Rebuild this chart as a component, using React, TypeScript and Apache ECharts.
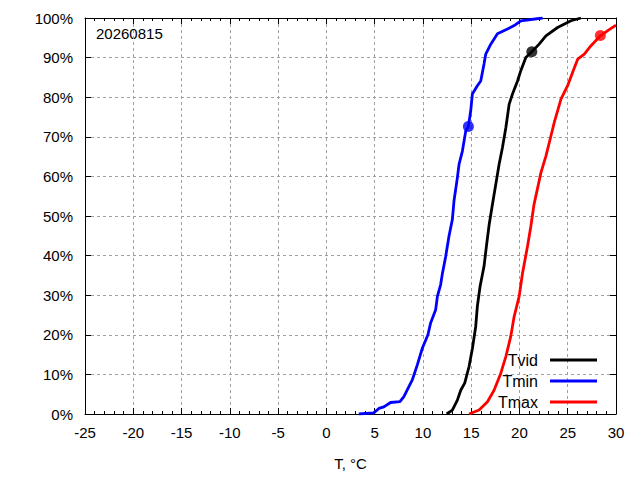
import React, { useEffect, useRef } from "react";
import * as echarts from "echarts";

const dateLabel = "20260815";
const seriesNames = ["Tvid", "Tmin", "Tmax"];
const seriesColors = ["#000000", "#0000ff", "#ff0000"];

const tvidT = [12.46, 13.05, 13.57, 13.92, 14.33, 14.78, 15.13, 15.47, 15.64, 15.92, 16.33, 16.6, 16.86, 17.2, 17.55, 17.89, 18.24, 18.59, 18.93, 19.28, 19.8, 20.14, 20.66, 21.28, 22.04, 22.74, 23.95, 25.33, 26.37];
const tvidP = [0, 1, 3.5, 6, 7.8, 12, 16.6, 22.1, 27.2, 32.2, 37.3, 42.8, 47.8, 52.9, 58, 63, 67.3, 72.3, 78.2, 80.8, 84.1, 86.7, 90, 91.5, 93.4, 95.5, 97.6, 99.3, 100];

const tminT = [3.36, 4.9, 5.44, 5.96, 6.65, 7.62, 8.03, 8.9, 9.42, 9.94, 10.52, 10.8, 11.32, 11.5, 11.84, 12.0, 12.36, 12.7, 13.05, 13.22, 13.57, 13.74, 14.09, 14.44, 14.71, 14.95, 15.12, 15.64, 15.99, 16.33, 16.51, 17.03, 17.72, 18.76, 19.45, 20.14, 22.4];
const tminP = [0, 0.3, 1.4, 1.8, 2.9, 3.1, 4.4, 8.6, 12.4, 16.6, 20, 23, 26.3, 29.7, 32.7, 35.2, 39.8, 44.9, 49.1, 53.8, 59.7, 63, 66.4, 71.5, 72.6, 76.5, 80.8, 82.9, 84.1, 88.4, 90.9, 93.4, 96, 97.2, 98.1, 99.3, 100];

const tmaxT = [14.78, 15.82, 16.69, 17.37, 18.07, 18.59, 19.1, 19.45, 19.97, 20.32, 20.84, 21.18, 21.5, 22.22, 22.74, 23.26, 23.6, 24.3, 24.99, 25.51, 26.03, 26.72, 27.41, 28.38, 29.14, 30];
const tmaxP = [0, 1, 3.1, 6, 10.3, 14.5, 19.6, 24.6, 29.7, 35.6, 42.4, 47.4, 52.8, 60.9, 65.1, 70.2, 73.6, 79.5, 82.9, 86.3, 89.6, 90.9, 93, 95.5, 96.8, 98.2];

const markerT = [21.28, 14.71, 28.38];
const markerP = [91.5, 72.6, 95.6];

const xTicks = { min: -25, max: 30, interval: 5 };
const yTicks = { min: 0, max: 100, interval: 10 };

const zip = (a: number[], b: number[]) => a.map((v, i) => [v, b[i]]);

export default function App() {
  const ref = useRef<HTMLDivElement>(null);
  useEffect(() => {
    if (!ref.current) return;
    const chart = echarts.init(ref.current, null, { renderer: "svg" });
    const font = "Liberation Sans";
    const gridLine = { show: true, lineStyle: { color: "#a0a0a0", type: [3, 3] as any, width: 1 } };
    const axisLine = { show: true, onZero: false, lineStyle: { color: "#000", width: 1 } };
    const lineData = [zip(tvidT, tvidP), zip(tminT, tminP), zip(tmaxT, tmaxP)];
    const series: any[] = [];
    seriesNames.forEach((name, i) => {
      series.push({
        name,
        type: "line",
        data: lineData[i],
        showSymbol: false,
        symbol: "none",
        lineStyle: { color: seriesColors[i], width: 2.8 },
        itemStyle: { color: seriesColors[i] },
        z: 3,
      });
    });
    seriesNames.forEach((name, i) => {
      series.push({
        name: name + "_pt",
        type: "scatter",
        data: [[markerT[i], markerP[i]]],
        symbolSize: 11,
        itemStyle: { color: seriesColors[i] },
        z: 4,
      });
    });
    chart.setOption({
      animation: false,
      textStyle: { fontFamily: font },
      grid: { left: 85, right: 24, top: 18, bottom: 66 },
      graphic: [
        {
          type: "text",
          left: 96,
          top: 26,
          style: { text: dateLabel, fontFamily: font, fontSize: 15, fill: "#000" },
        },
      ],
      legend: {
        data: seriesNames,
        orient: "vertical",
        align: "right",
        right: 38,
        top: 347,
        itemWidth: 47,
        itemHeight: 3,
        itemGap: 5,
        icon: "rect",
        textStyle: { fontFamily: font, fontSize: 16, color: "#000", padding: [0, 7, 0, 0] },
      },
      xAxis: [
        {
          type: "value",
          position: "bottom",
          ...xTicks,
          name: "T, °C",
          nameLocation: "middle",
          nameGap: 42,
          nameTextStyle: { fontFamily: font, fontSize: 15, color: "#000" },
          axisLine,
          axisTick: { show: true, inside: true, length: 6, lineStyle: { color: "#000" } },
          minorTick: { show: true, splitNumber: 5, length: 3, lineStyle: { color: "#000" } },
          splitLine: gridLine,
          axisLabel: { margin: 11, fontFamily: font, fontSize: 15, color: "#000" },
        },
        {
          type: "value",
          position: "top",
          ...xTicks,
          axisLine,
          axisTick: { show: true, inside: true, length: 6, lineStyle: { color: "#000" } },
          minorTick: { show: true, splitNumber: 5, length: 3, lineStyle: { color: "#000" } },
          splitLine: { show: false },
          axisLabel: { show: false },
        },
      ],
      yAxis: [
        {
          type: "value",
          position: "left",
          ...yTicks,
          axisLine,
          axisTick: { show: true, inside: true, length: 6, lineStyle: { color: "#000" } },
          splitLine: gridLine,
          axisLabel: { margin: 12, formatter: "{value}%", fontFamily: font, fontSize: 15, color: "#000" },
        },
        {
          type: "value",
          position: "right",
          ...yTicks,
          axisLine,
          axisTick: { show: true, inside: true, length: 6, lineStyle: { color: "#000" } },
          splitLine: { show: false },
          axisLabel: { show: false },
        },
      ],
      series,
    });
    return () => chart.dispose();
  }, []);
  return (
    <div
      ref={ref}
      style={{ position: "fixed", left: 0, top: 0, width: 640, height: 480, background: "#fff" }}
    />
  );
}
